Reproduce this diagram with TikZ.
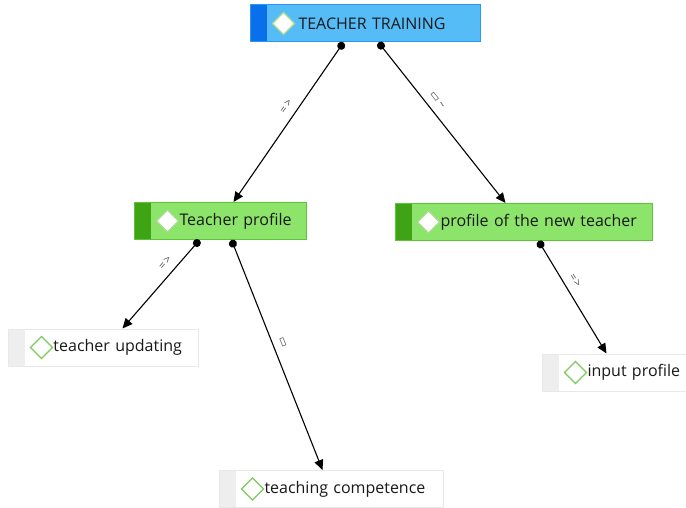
\documentclass[tikz,border=0pt]{standalone}
\usepackage{fontspec}
\setmainfont{Open Sans}
\newfontfamily\symfont{DejaVu Sans}
\usetikzlibrary{arrows.meta}

\definecolor{mainfill}{HTML}{55BCF8}
\definecolor{mainline}{HTML}{2A9AF0}
\definecolor{mainbar}{HTML}{0A6FEA}
\definecolor{subfill}{HTML}{8DE46A}
\definecolor{subline}{HTML}{5DC43A}
\definecolor{subbar}{HTML}{3EA414}
\definecolor{leafline}{HTML}{E8E8E8}
\definecolor{leafbar}{HTML}{EEEEEE}
\definecolor{iconlite}{HTML}{A8DC90}
\definecolor{icongreen}{HTML}{7CCB5C}

\tikzset{
  topic/.style n args={5}{draw=#2, fill=#1, line width=1pt,
    minimum height=37pt, inner xsep=0pt, inner ysep=0pt,
    text width=#4, align=left, anchor=west, text=black!90,
    font=\fontsize{16}{19}\selectfont,
    execute at begin node={\hspace*{45pt}},
    path picture={
      \fill[#3] (path picture bounding box.south west)
        rectangle ([xshift=16pt]path picture bounding box.north west);
      \filldraw[fill=white, draw=#5, line width=1.4pt]
        ([xshift=33pt]path picture bounding box.west)
        +(-11pt,0) -- +(0,11pt) -- +(11pt,0) -- +(0,-11pt) -- cycle;
    }},
  link/.style={line width=1.1pt, arrows={Circle[length=8pt]-Triangle[length=10pt,width=9pt]}},
  lbl/.style={font=\fontsize{11}{12}\selectfont, text=black!70, inner sep=1pt, above=6pt, sloped}
}
\newcommand{\impl}{=\kern1.5pt>}

\begin{document}
\begin{tikzpicture}[x=1pt,y=-1pt]
\useasboundingbox (0,0) rectangle (686,508);
\fill[white] (0,0) rectangle (686,508);

\node[topic={mainfill}{mainline}{mainbar}{230pt}{iconlite}] (train) at (250,23.5) {\hspace*{3pt}TEACHER TRAINING};
\node[topic={subfill}{subline}{subbar}{172pt}{iconlite}] (tprof) at (134,221) {Teacher profile};
\node[topic={subfill}{subline}{subbar}{257pt}{iconlite}] (pnew) at (395,222) {profile of the new teacher};
\node[topic={white}{leafline}{leafbar}{190pt}{icongreen}] (upd) at (8,347.5) {teacher updating};
\node[topic={white}{leafline}{leafbar}{150pt}{icongreen}] (inp) at (542,372.5) {input profile};
\node[topic={white}{leafline}{leafbar}{224pt}{icongreen}] (comp) at (219,489) {teaching competence};

\draw[link] ([xshift=-22pt]train.south) -- node[lbl, pos=0.44] {\impl} ([xshift=13pt]tprof.north);
\draw[link] ([xshift=13pt]train.south) -- node[lbl, pos=0.4] {{\symfont ▭}\kern2pt\textasciitilde} ([xshift=-18.5pt]pnew.north);
\draw[link] ([xshift=-21pt]tprof.south) -- node[lbl, pos=0.34] {\impl} ([xshift=19pt]upd.north);
\draw[link] ([xshift=11pt]tprof.south) -- node[lbl, pos=0.46] {{\symfont ▭}} ([xshift=-9pt]comp.north);
\draw[link] ([xshift=14.5pt]pnew.south) -- node[lbl, pos=0.4] {\impl} ([xshift=-11pt]inp.north);
\end{tikzpicture}
\end{document}
